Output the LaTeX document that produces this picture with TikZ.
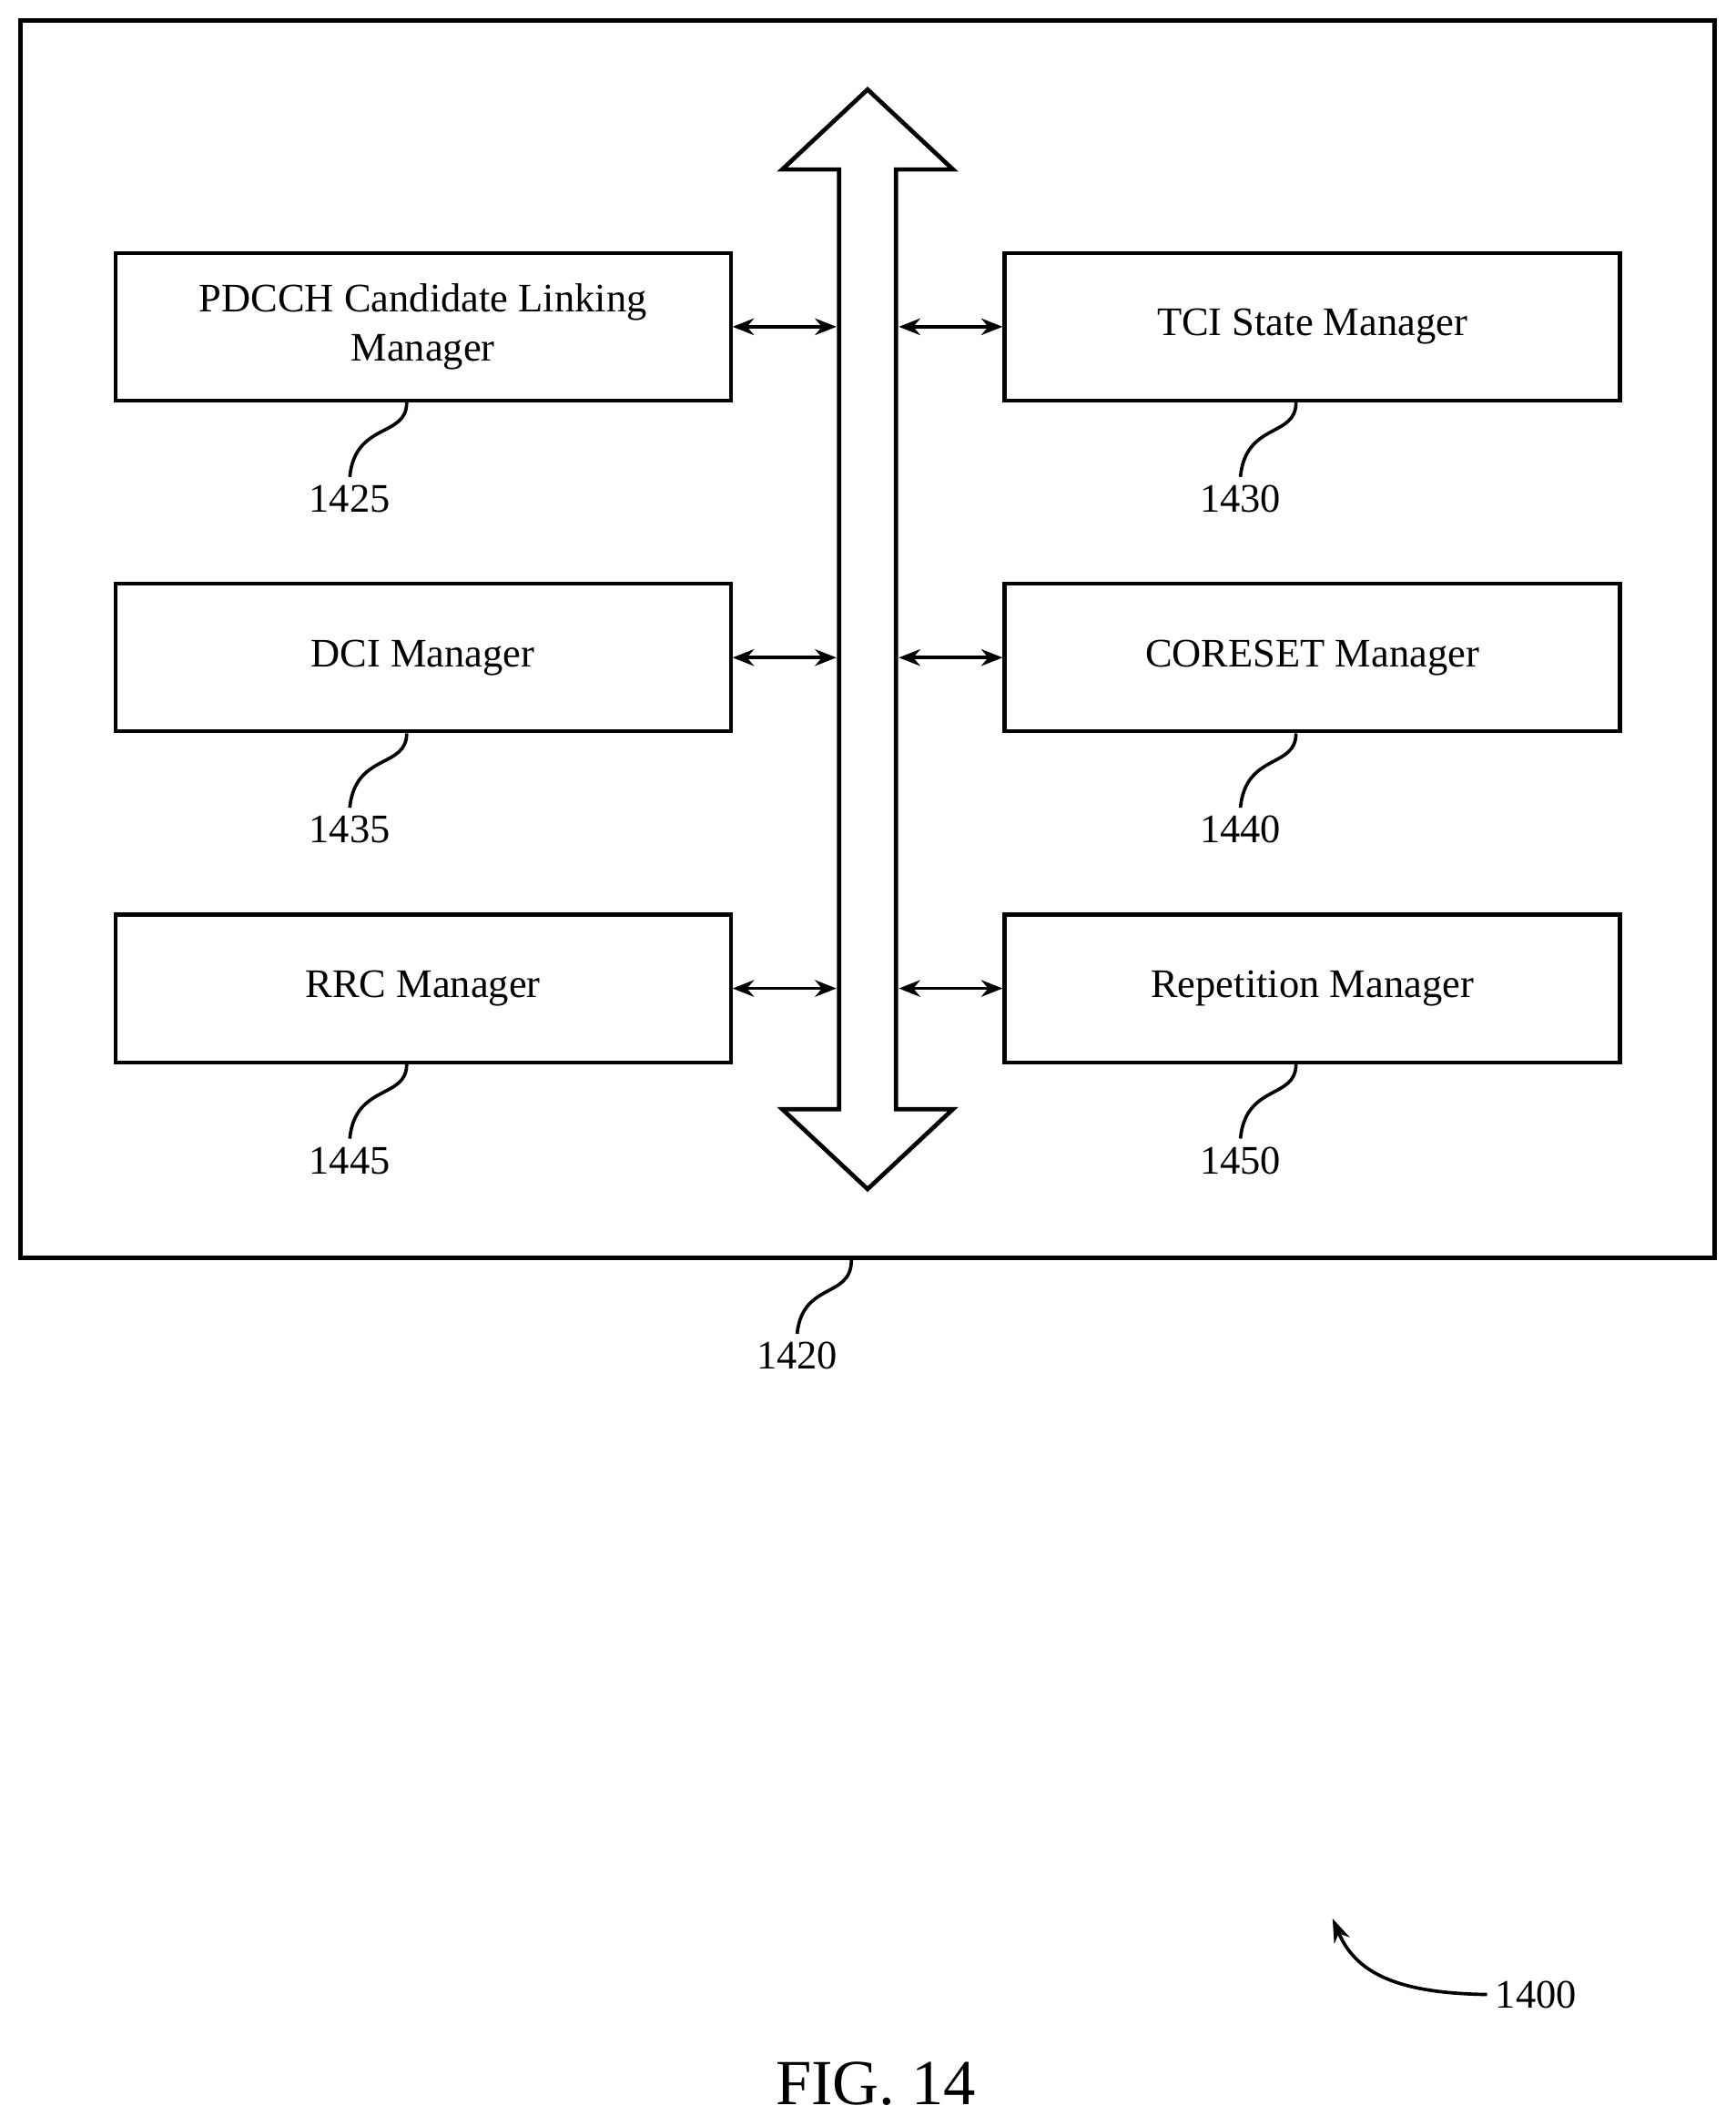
\documentclass[tikz,border=0pt]{standalone}
\usepackage{fontspec}
\setmainfont{Liberation Serif}
\usetikzlibrary{arrows.meta}
\begin{document}
\begin{tikzpicture}[x=0.02cm,y=-0.02cm,
  box/.style={draw,line width=1.6pt,minimum width=9.08cm,minimum height=2.18cm,align=center,font=\fontsize{17}{21}\selectfont,inner sep=0pt},
  lbl/.style={font=\fontsize{17}{20}\selectfont},
  dbl/.style={{Stealth[length=9pt,width=7pt]}-{Stealth[length=9pt,width=7pt]},line width=1.4pt},
  lead/.style={line width=1.4pt}]
\useasboundingbox (0,0) rectangle (1280,1568);
\node[draw,line width=1.8pt,minimum width=25cm,minimum height=18.26cm,inner sep=0pt] (outer) at (640,471.5) {};
\draw[line width=1.8pt,fill=white] (619,818) -- (619,125) -- (577,125) -- (640,66) -- (703,125) -- (661,125) -- (661,818) -- (703,818) -- (640,877) -- (577,818) -- cycle;
\coordinate (busL) at (617,0); \coordinate (busR) at (663,0);
\foreach \n/\t/\x/\y/\num in {a/{PDCCH Candidate Linking\\Manager}/312/241/1425, b/DCI Manager/312/485/1435, c/RRC Manager/312/729/1445}{
  \node[box] (\n) at (\x,\y) {\t};
  \coordinate (\n b) at (617,\y);
  \draw[dbl] (\n.east) -- (\n b);
  \node[lbl] (\n l) at (258,\y+127) {\num};
  \draw[lead] (\n.south -| 300,0) .. controls (300,\y+82) and (262,\y+70) .. (\n l.north);
}
\foreach \n/\t/\x/\y/\num in {d/TCI State Manager/968/241/1430, e/CORESET Manager/968/485/1440, f/Repetition Manager/968/729/1450}{
  \node[box] (\n) at (\x,\y) {\t};
  \coordinate (\n b) at (663,\y);
  \draw[dbl] (\n b) -- (\n.west);
  \node[lbl] (\n l) at (915,\y+127) {\num};
  \draw[lead] (\n.south -| 956,0) .. controls (956,\y+82) and (919,\y+70) .. (\n l.north);
}
\node[lbl] (l1420) at (588,1000) {1420};
\draw[lead] (outer.south -| 628,0) .. controls (628,958) and (592,945) .. (l1420.north);
\node[lbl] (l1400) at (1133,1471) {1400};
\coordinate (a1400) at (983,1415);
\draw[lead,-{Stealth[length=10pt,width=7pt]}] (l1400.west) .. controls (1030,1470) and (1000,1455) .. (a1400);
\node[font=\fontsize{27}{30}\selectfont] (fig) at (646,1537) {FIG. 14};
\end{tikzpicture}
\end{document}
